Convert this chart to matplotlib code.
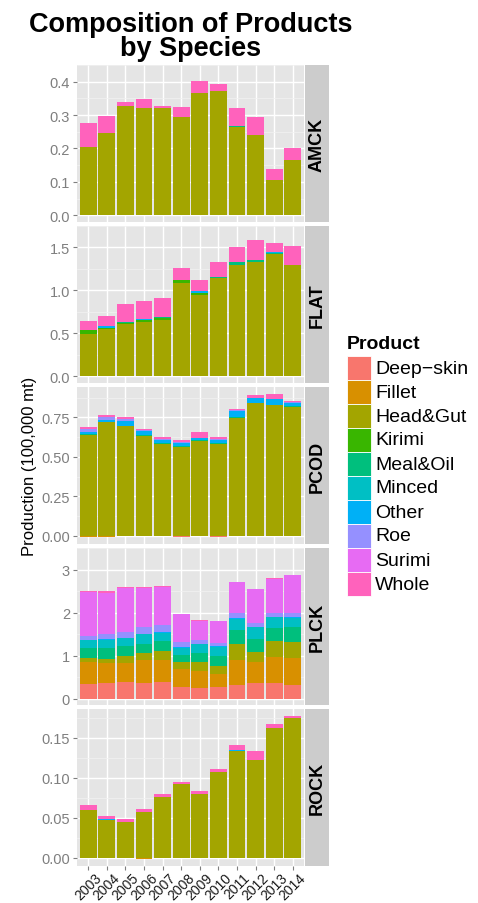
import matplotlib
matplotlib.use("Agg")
import matplotlib.pyplot as plt
from matplotlib.patches import Rectangle
import numpy as np

plt.rcParams['font.family'] = ['Liberation Sans', 'DejaVu Sans']

years = [str(y) for y in range(2003, 2015)]
products = ["Deep\u2212skin", "Fillet", "Head&Gut", "Kirimi", "Meal&Oil",
            "Minced", "Other", "Roe", "Surimi", "Whole"]
colors = ["#F8766D", "#D89000", "#A3A500", "#39B600", "#00BF7D",
          "#00BFC4", "#00B0F6", "#9590FF", "#E76BF3", "#FF62BC"]
species = ["AMCK", "FLAT", "PCOD", "PLCK", "ROCK"]

# production by product (100,000 mt), one list per product, 2003..2014
amck = {
    "Head&Gut": [0.205, 0.245, 0.328, 0.322, 0.322, 0.294, 0.366, 0.372, 0.265, 0.239, 0.107, 0.167],
    "Meal&Oil": [0, 0, 0, 0, 0, 0, 0, 0, 0.003, 0, 0, 0],
    "Whole":    [0.072, 0.052, 0.012, 0.026, 0.006, 0.031, 0.037, 0.022, 0.052, 0.055, 0.032, 0.035],
}
flat = {
    "Head&Gut": [0.489, 0.545, 0.604, 0.634, 0.657, 1.086, 0.951, 1.142, 1.299, 1.332, 1.418, 1.299],
    "Kirimi":   [0.045, 0.022, 0.012, 0.019, 0.026, 0.030, 0.019, 0, 0, 0, 0, 0],
    "Meal&Oil": [0, 0, 0.011, 0, 0.011, 0, 0, 0.018, 0.026, 0.019, 0.019, 0],
    "Other":    [0, 0.015, 0, 0.019, 0, 0, 0.019, 0, 0, 0, 0.007, 0],
    "Whole":    [0.112, 0.119, 0.220, 0.209, 0.220, 0.145, 0.127, 0.168, 0.186, 0.235, 0.108, 0.220],
}
pcod = {
    "Deep\u2212skin": [-0.004, 0, 0, 0, 0, -0.007, -0.003, -0.007, 0, 0, 0, 0],
    "Fillet":   [-0.004, -0.006, -0.002, -0.004, 0, 0, 0, 0, -0.003, 0, 0, 0],
    "Head&Gut": [0.640, 0.720, 0.695, 0.632, 0.581, 0.564, 0.602, 0.581, 0.748, 0.841, 0.828, 0.815],
    "Meal&Oil": [0.004, 0, 0, 0.004, 0.006, 0.004, 0.004, 0.006, 0.006, 0, 0, 0.007],
    "Other":    [0.015, 0.015, 0.030, 0.027, 0.019, 0.021, 0.013, 0.021, 0.038, 0.032, 0.038, 0.019],
    "Roe":      [0.015, 0.015, 0.015, 0.005, 0.007, 0.005, 0, 0.006, 0.004, 0, 0, 0.006],
    "Whole":    [0.015, 0.015, 0.012, 0.008, 0.012, 0.012, 0.038, 0.011, 0.007, 0.019, 0.032, 0.006],
}
plck = {
    "Deep\u2212skin": [0.333, 0.360, 0.401, 0.360, 0.401, 0.278, 0.251, 0.275, 0.319, 0.360, 0.356, 0.315],
    "Fillet":   [0.529, 0.461, 0.441, 0.529, 0.488, 0.408, 0.394, 0.302, 0.584, 0.489, 0.611, 0.632],
    "Head&Gut": [0.082, 0.102, 0.142, 0.163, 0.218, 0.163, 0.217, 0.188, 0.367, 0.244, 0.367, 0.370],
    "Meal&Oil": [0.244, 0.245, 0.245, 0.218, 0.230, 0.176, 0.190, 0.238, 0.325, 0.285, 0.309, 0.343],
    "Minced":   [0.170, 0.203, 0.183, 0.224, 0.191, 0.163, 0.218, 0.203, 0.265, 0.279, 0.245, 0.221],
    "Other":    [0.007, 0.010, 0, 0.013, 0.013, 0.010, 0.007, 0.014, 0.010, 0.013, 0.013, 0.013],
    "Roe":      [0.101, 0.133, 0.143, 0.150, 0.163, 0.112, 0.094, 0.075, 0.112, 0.088, 0.081, 0.088],
    "Surimi":   [1.005, 0.944, 1.018, 0.916, 0.889, 0.652, 0.435, 0.509, 0.720, 0.781, 0.805, 0.883],
    "Whole":    [0.041, 0.034, 0.020, 0.020, 0.021, 0.014, 0.013, 0.013, 0.014, 0.014, 0.010, 0.013],
}
rock = {
    "Deep\u2212skin": [-0.0005, 0, 0, 0, 0, 0, 0, 0, 0, 0, 0, 0],
    "Fillet":   [0, 0, 0, -0.0017, 0, 0, 0, 0, 0, 0, 0, 0],
    "Head&Gut": [0.0591, 0.0474, 0.0440, 0.0566, 0.0763, 0.0914, 0.0792, 0.1073, 0.1329, 0.1215, 0.1618, 0.1744],
    "Meal&Oil": [0, 0, 0, 0, 0, 0, 0, 0, 0, 0, 0.0008, 0],
    "Other":    [0, 0.0012, 0, 0, 0, 0, 0.0008, 0, 0.0016, 0, 0, 0],
    "Whole":    [0.0071, 0.0038, 0.0046, 0.0046, 0.0037, 0.0025, 0.0026, 0.0029, 0.0059, 0.0114, 0.0042, 0.0025],
}
panel_data = [amck, flat, pcod, plck, rock]
yticks = [[0, 0.1, 0.2, 0.3, 0.4], [0, 0.5, 1.0, 1.5], [0, 0.25, 0.5, 0.75],
          [0, 1, 2, 3], [0, 0.05, 0.10, 0.15]]
ytick_fmt = ["{:.1f}", "{:.1f}", "{:.2f}", "{:.0f}", "{:.2f}"]

W, H = 478, 904
fig = plt.figure(figsize=(W / 100, H / 100), dpi=100)

def px_axes(x0, y0, x1, y1):
    return fig.add_axes([x0 / W, 1 - y1 / H, (x1 - x0) / W, (y1 - y0) / H])

x = np.arange(1, len(years) + 1)
top0, ph, gap = 66, 157, 4
for i, (sp, data) in enumerate(zip(species, panel_data)):
    y0 = top0 + i * (ph + gap)
    ax = px_axes(77, y0, 304, y0 + ph)
    ax.set_facecolor("#E5E5E5")
    pos = np.zeros(len(years))
    neg = np.zeros(len(years))
    for prod, col in zip(products, colors):
        if prod not in data:
            continue
        v = np.array(data[prod], dtype=float)
        p = np.where(v > 0, v, 0)
        n = np.where(v < 0, v, 0)
        if p.any():
            ax.bar(x, p, bottom=pos, width=0.9, color=col, linewidth=0, zorder=3)
        if n.any():
            ax.bar(x, n, bottom=neg, width=0.9, color=col, linewidth=0, zorder=3)
        pos += p
        neg += n
    lo, hi = neg.min(), pos.max()
    rng = hi - lo
    ax.set_ylim(lo - 0.05 * rng, hi + 0.05 * rng)
    ax.set_xlim(0.4, len(years) + 0.6)
    yt = yticks[i]
    ax.set_yticks(yt)
    ax.set_yticklabels([ytick_fmt[i].format(t) for t in yt])
    minor = [(a + b) / 2 for a, b in zip(yt[:-1], yt[1:])]
    minor.append(yt[-1] + (yt[1] - yt[0]) / 2)
    ax.set_yticks(minor, minor=True)
    ax.set_xticks(x)
    ax.grid(True, which="major", color="white", linewidth=1.0, zorder=1)
    ax.grid(True, which="minor", axis="y", color="#F2F2F2", linewidth=0.5, zorder=1)
    ax.set_axisbelow(True)
    for s in ax.spines.values():
        s.set_visible(False)
    ax.tick_params(axis="y", which="major", labelsize=10.5, labelcolor="#7F7F7F",
                   color="#7F7F7F", length=3, width=0.8, pad=2)
    ax.tick_params(axis="y", which="minor", length=0)
    if i == len(species) - 1:
        ax.set_xticklabels(years, rotation=45, ha="center", va="top")
        ax.tick_params(axis="x", labelsize=10, labelcolor="#1A1A1A",
                       color="#7F7F7F", length=3, width=0.8, pad=0)
    else:
        ax.tick_params(axis="x", length=0, labelbottom=False)

    sax = px_axes(305, y0, 329, y0 + ph)
    sax.set_facecolor("#CCCCCC")
    sax.set_xticks([])
    sax.set_yticks([])
    for s in sax.spines.values():
        s.set_visible(False)
    sax.text(0.5, 0.5, sp, rotation=90, ha="center", va="center",
             fontsize=13, fontweight="bold", transform=sax.transAxes)

fig.text(191 / W, 1 - 12 / H, "Composition of Products\nby Species", ha="center",
         va="top", fontsize=19.5, fontweight="bold", linespacing=0.92)
fig.text(30 / W, 1 - 466 / H, "Production (100,000 mt)", rotation=90,
         ha="center", va="center", fontsize=12)

# legend drawn as a key column
kx, ky, kw, kh = 347, 357, 24, 24
fig.text(kx / W, 1 - 345 / H, "Product", ha="left", va="center",
         fontsize=14, fontweight="bold")
for k, (prod, col) in enumerate(zip(products, colors)):
    top = ky + k * kh
    fig.patches.append(Rectangle((kx / W, 1 - (top + kh) / H), kw / W, kh / H,
                                 facecolor=col, edgecolor="white", linewidth=0.6,
                                 transform=fig.transFigure, figure=fig))
    fig.text((kx + kw + 4) / W, 1 - (top + kh / 2) / H, prod, ha="left",
             va="center", fontsize=14)

fig.savefig("out.png", dpi=100)
